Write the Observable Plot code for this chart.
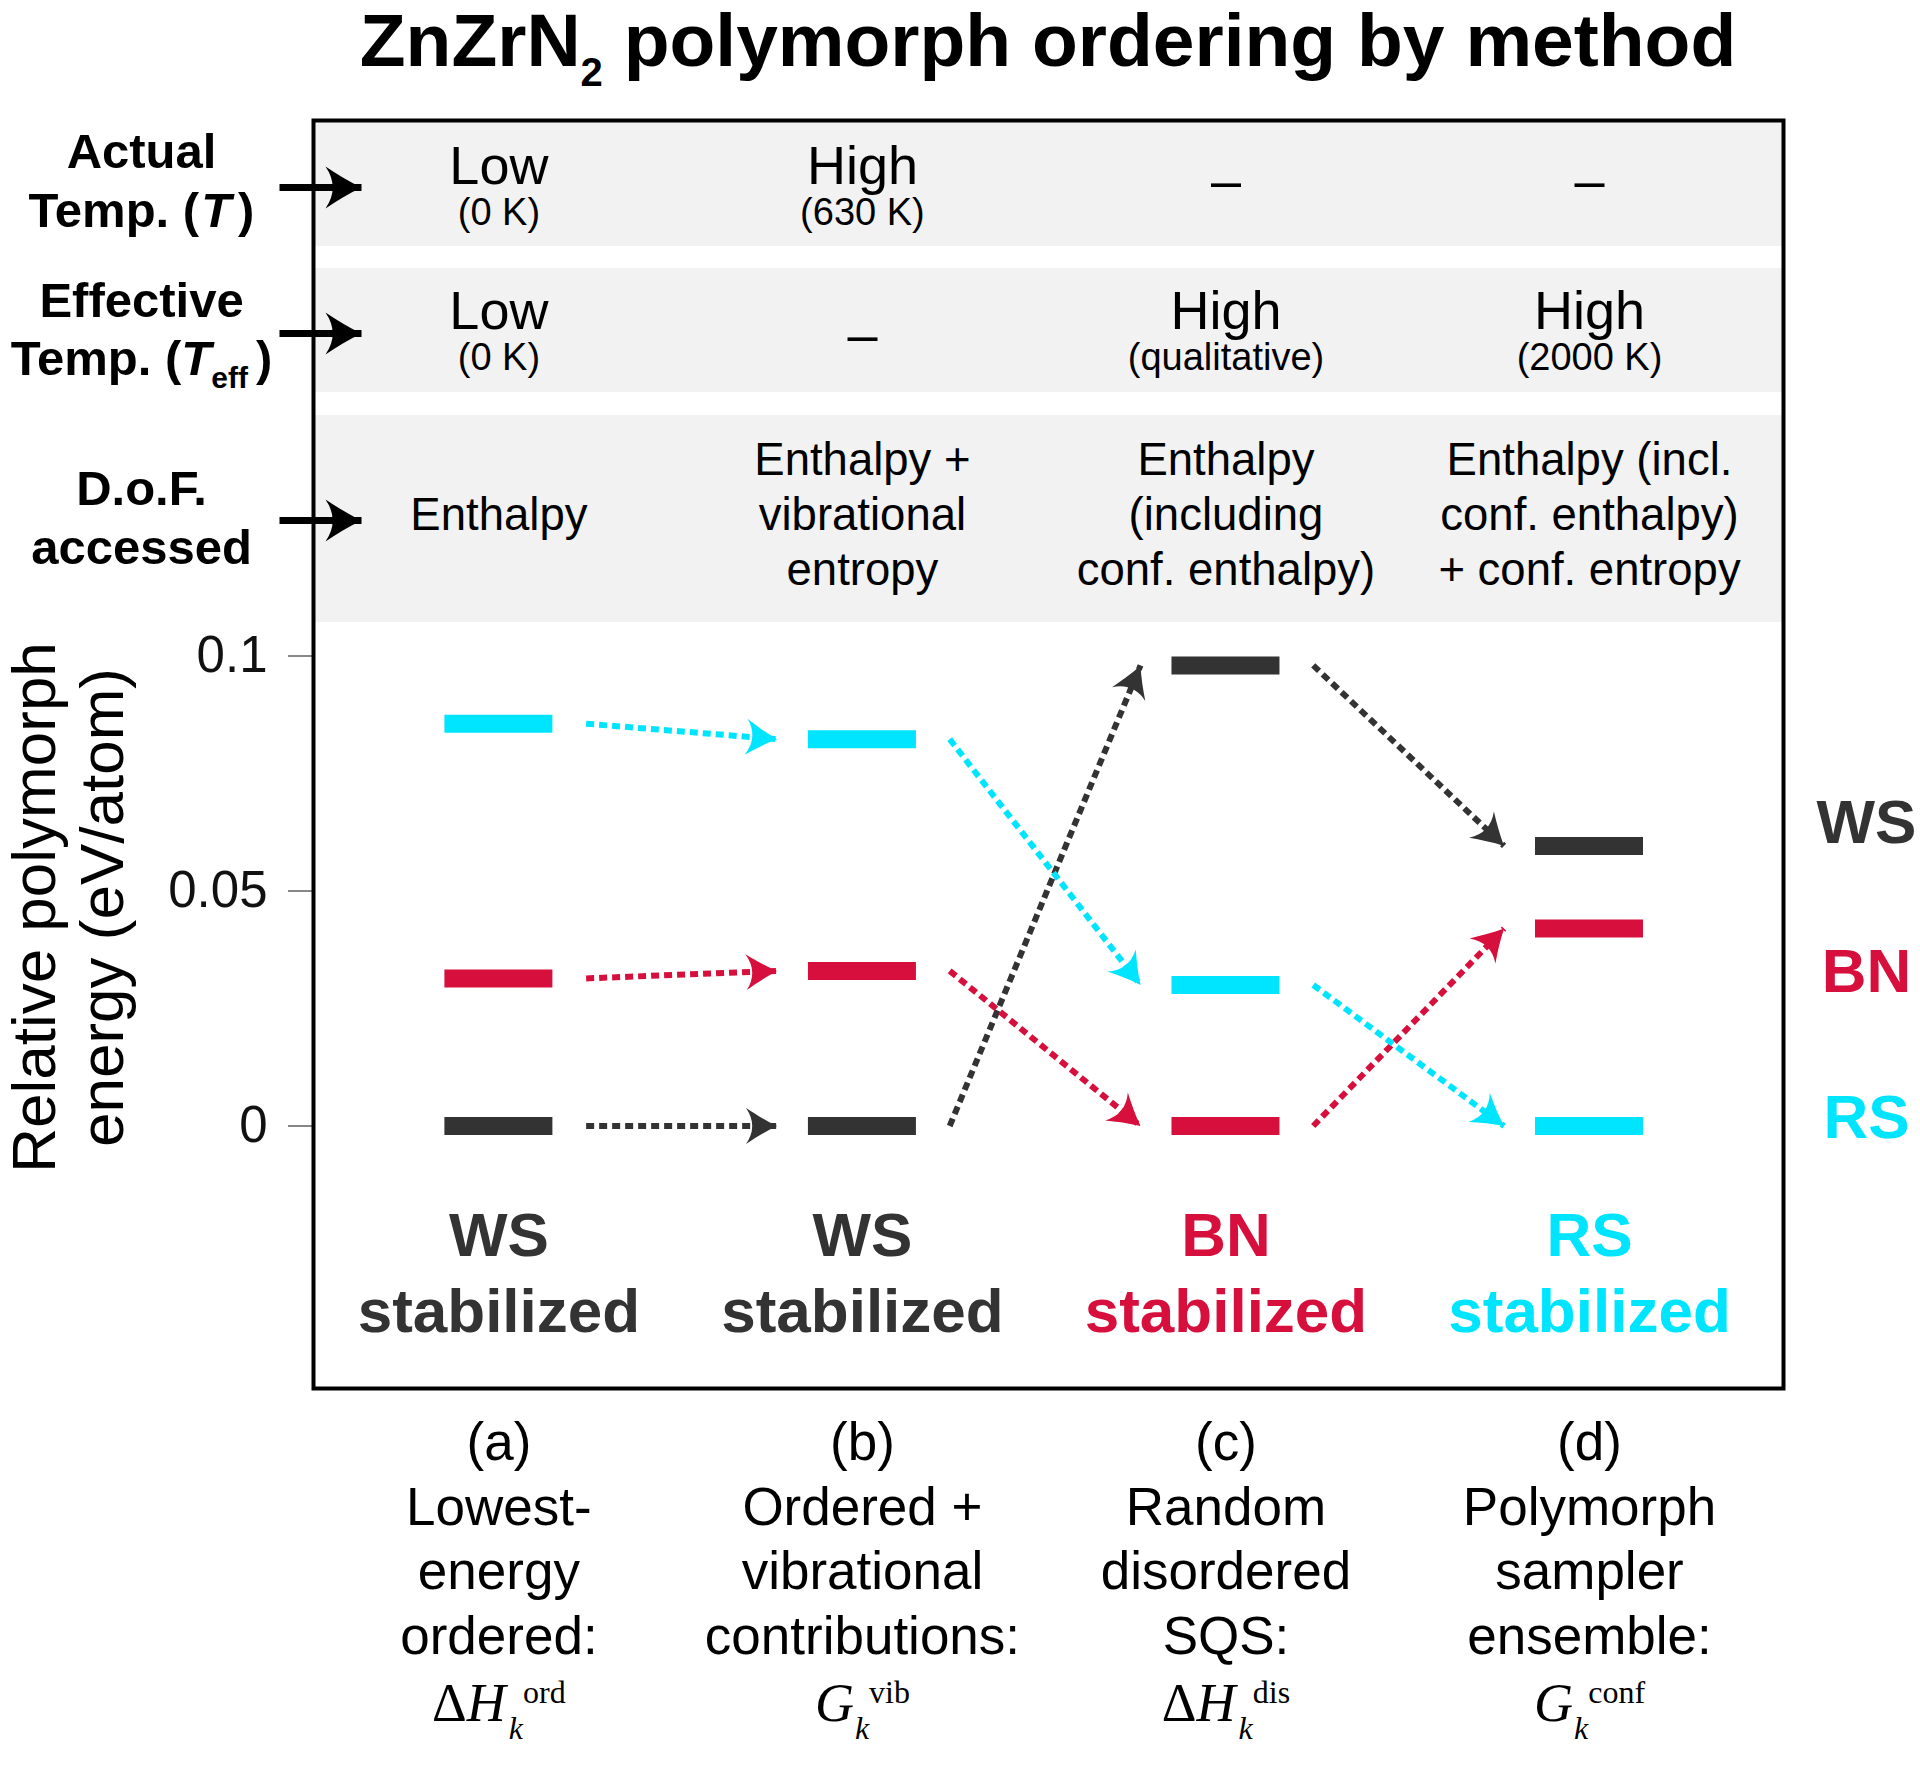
<!DOCTYPE html>
<html><head><meta charset="utf-8">
<script src="https://cdn.jsdelivr.net/npm/d3@7"></script>
<script src="https://cdn.jsdelivr.net/npm/@observablehq/plot@0.6"></script>
<style>
html,body{margin:0;padding:0;background:#fff;}
#title{height:110px;width:1470px;margin-left:313px;padding-top:3px;box-sizing:border-box;text-align:center;
  font-family:"Liberation Sans",Arial,Helvetica,sans-serif;font-weight:bold;font-size:75px;line-height:74px;white-space:nowrap;color:#000;}
#title sub{font-size:40px;vertical-align:baseline;position:relative;top:20px;}
#chart svg{display:block;}
</style></head><body>
<div id="title">ZnZrN<sub>2</sub> polymorph ordering by method</div>
<div id="chart"></div>
<script>
// ---------------- DATA ----------------
const methods = ["a", "b", "c", "d"];
const polymorphs = ["WS", "BN", "RS"];
const polymorphColors = ["#333333", "#D70F3C", "#00E5FF"];
const energyWS = [0, 0, 0.098, 0.0596];
const energyBN = [0.0314, 0.033, 0, 0.042];
const energyRS = [0.0856, 0.0823, 0.030, 0];
const yTicks = [0, 0.05, 0.1];
const yAxisTitle = ["Relative polymorph", "energy (eV/atom)"];
const actualTemp = [["Low", "(0 K)"], ["High", "(630 K)"], ["\u2013", null], ["\u2013", null]];
const effectiveTemp = [["Low", "(0 K)"], ["\u2013", null], ["High", "(qualitative)"], ["High", "(2000 K)"]];
const dofAccessed = ["Enthalpy", "Enthalpy +\nvibrational\nentropy", "Enthalpy\n(including\nconf. enthalpy)", "Enthalpy (incl.\nconf. enthalpy)\n+ conf. entropy"];
const rowLabels = [["Actual", "Temp. (T)"], ["Effective", "Temp. (Teff)"], ["D.o.F.", "accessed"]];
const stabilized = ["WS", "WS", "BN", "RS"];
const panelLetters = ["(a)", "(b)", "(c)", "(d)"];
const methodNames = ["Lowest-\nenergy\nordered:", "Ordered +\nvibrational\ncontributions:", "Random\ndisordered\nSQS:", "Polymorph\nsampler\nensemble:"];
const methodSymbols = ["\u0394Hkord", "Gkvib", "\u0394Hkdis", "Gkconf"];

// ---------------- LAYOUT (page pixels) ----------------
const T = 110;                       // title block height
const W = 1920, H = 1767 - T;
const FRAME = {left: 313, right: 1783, top: 120, bottom: 1388};
const COL0 = 498.4, COL3 = 1589;     // centres of first / last column
const E0 = 1125.5, E01 = 655.5;      // page y of energy 0 and 0.1
const px2col = d3.scaleLinear([COL0, COL3], [0, 3]);
const px2e = d3.scaleLinear([E0, E01], [0, 0.1]);
const BANDS = [[120, 246], [268, 392], [415, 622]];
const HEADER = [{main: 183, sub: 224.5, dash: 181}, {main: 328, sub: 369, dash: 335}];
const DOF_Y = 511.5;
const LEFT_X = 141, LEFT_BASE = [[167.8, 226.3], [316, 374.5], [504.5, 563]];
const LEFT_ARROW = {x1: 279, x2: 361, y: [187, 333, 520]};
const YTITLE = {x: [54, 122], y: 907};
const LEGEND = {x: 1866, y: [822.5, 972, 1118]};
const STAB_Y = 1331, CAPTION_Y = 1653, SYMBOL_Y = 1720;
const BAR_HALF = 54 / (COL3 - COL0) * 3;
const SANS = "'Liberation Sans', Arial, Helvetica, sans-serif";
const SERIF = "'Liberation Serif', 'Times New Roman', serif";

// ---------------- DERIVED TABLES ----------------
const series = {WS: energyWS, BN: energyBN, RS: energyRS};
const bars = polymorphs.flatMap(p => methods.map((m, i) => ({p, i, e: series[p][i]})));
const transitions = polymorphs.flatMap(p => [0, 1, 2].map(i => ({p, i1: i, i2: i + 1, e1: series[p][i], e2: series[p][i + 1]})));
const headerRows = [actualTemp, effectiveTemp];
const cells = headerRows.flatMap((row, r) => row.map((c, i) => ({r, i, main: c[0], sub: c[1]})));
const headMain = cells.filter(d => d.sub).map(d => ({i: d.i, t: d.main, y: px2e(HEADER[d.r].main)}));
const headSub = cells.filter(d => d.sub).map(d => ({i: d.i, t: d.sub, y: px2e(HEADER[d.r].sub)}));
const headDash = cells.filter(d => !d.sub).map(d => ({i: d.i, t: d.main, y: px2e(HEADER[d.r].dash)}));
const leftLines = rowLabels.flatMap((lines, r) => lines.map((t, k) => ({t, y: px2e(LEFT_BASE[r][k])})));
const RICH = {
  "Temp. (T)": [["Temp. ("], ["T", {fs: "italic", dx: 2}], [")", {dx: 7}]],
  "Temp. (Teff)": [["Temp. ("], ["T", {fs: "italic"}], ["eff", {size: 30, dy: 13}], [")", {dy: -13, dx: 8}]],
  "\u0394Hkord": [["\u0394"], ["H", {fs: "italic"}], ["k", {fs: "italic", size: 32, dy: 18, dx: 3}], ["ord", {size: 32, dy: -36}]],
  "Gkvib": [["G", {fs: "italic"}], ["k", {fs: "italic", size: 32, dy: 18, dx: 1}], ["vib", {size: 32, dy: -36}]],
  "\u0394Hkdis": [["\u0394"], ["H", {fs: "italic"}], ["k", {fs: "italic", size: 32, dy: 18, dx: 3}], ["dis", {size: 32, dy: -36}]],
  "Gkconf": [["G", {fs: "italic"}], ["k", {fs: "italic", size: 32, dy: 18, dx: 1}], ["conf", {size: 32, dy: -36}]]
};

const SVGNS = "http://www.w3.org/2000/svg";
function arrowHead(L, h) {
  return (color, context) => {
    const doc = (context && context.document) || document;
    const m = doc.createElementNS(SVGNS, "marker");
    m.setAttribute("viewBox", `${-L - 1} ${-h - 1} ${L + 2} ${2 * h + 2}`);
    m.setAttribute("markerWidth", L + 2);
    m.setAttribute("markerHeight", 2 * h + 2);
    m.setAttribute("refX", 0);
    m.setAttribute("refY", 0);
    m.setAttribute("markerUnits", "userSpaceOnUse");
    m.setAttribute("orient", "auto");
    const p = doc.createElementNS(SVGNS, "path");
    p.setAttribute("d", `M0,0 C${-0.35 * L},${-0.28 * h} ${-0.7 * L},${-0.66 * h} ${-L},${-h} Q${-0.6 * L},0 ${-L},${h} C${-0.7 * L},${0.66 * h} ${-0.35 * L},${0.28 * h} 0,0Z`);
    p.setAttribute("fill", color);
    p.setAttribute("stroke", "none");
    m.appendChild(p);
    return m;
  };
}

function build(smallHead, bigHead) {
  return Plot.plot({
    width: W, height: H,
    marginLeft: FRAME.left, marginRight: W - FRAME.right,
    marginTop: FRAME.top - T, marginBottom: H - (FRAME.bottom - T),
    x: {domain: [0, 3], range: [COL0, COL3], axis: null},
    y: {domain: [0, 0.1], range: [E0 - T, E01 - T], ticks: yTicks, tickFormat: d => `${d}`, tickSize: 25, tickPadding: 21, label: null},
    color: {domain: polymorphs, range: polymorphColors},
    style: {fontFamily: SANS, fontSize: "51px", color: "#111", background: "white", overflow: "visible"},
    marks: [
      Plot.rect(BANDS, {x1: () => px2col(FRAME.left), x2: () => px2col(FRAME.right), y1: d => px2e(d[0]), y2: d => px2e(d[1]), fill: "#f2f2f2"}),
      Plot.frame({stroke: "#000", strokeWidth: 4}),
      // header rows
      Plot.text(headMain, {x: "i", y: "y", text: "t", fontSize: 54, lineAnchor: "bottom", fill: "#000"}),
      Plot.text(headSub, {x: "i", y: "y", text: "t", fontSize: 38, lineAnchor: "bottom", fill: "#000"}),
      Plot.text(headDash, {x: "i", y: "y", text: "t", fontSize: 54, lineAnchor: "middle", fill: "#000"}),
      Plot.text(dofAccessed, {x: (d, i) => i, y: () => px2e(DOF_Y), text: d => d, fontSize: 45.5, lineHeight: 1.21, lineAnchor: "middle", fill: "#000"}),
      // left row labels and arrows
      Plot.text(leftLines, {x: () => px2col(LEFT_X), y: "y", text: "t", fontSize: 49, fontWeight: "bold", lineAnchor: "bottom", fill: "#000"}),
      Plot.link(LEFT_ARROW.y, {x1: () => px2col(LEFT_ARROW.x1), x2: () => px2col(LEFT_ARROW.x2), y1: d => px2e(d), y2: d => px2e(d), stroke: "#000", strokeWidth: 7, markerEnd: bigHead}),
      // y axis title
      Plot.text(yAxisTitle, {x: (d, i) => px2col(YTITLE.x[i]), y: () => px2e(YTITLE.y), text: d => d, rotate: -90, fontSize: 62, lineAnchor: "bottom", fill: "#000"}),
      // arrows between methods
      Plot.link(transitions, {x1: d => d.i1 + 0.24, y1: "e1", x2: d => d.i2 - 0.235, y2: "e2", stroke: "p", strokeWidth: 6, strokeDasharray: "8,5", markerEnd: smallHead}),
      // energy levels
      Plot.ruleY(bars, {x1: d => d.i - BAR_HALF, x2: d => d.i + BAR_HALF, y: "e", stroke: "p", strokeWidth: 18}),
      // legend
      Plot.text(polymorphs, {x: () => px2col(LEGEND.x), y: (d, i) => px2e(LEGEND.y[i]), text: d => d, fill: d => d, fontSize: 62, fontWeight: "bold", lineAnchor: "middle"}),
      // stabilized labels
      Plot.text(stabilized, {x: (d, i) => i, y: () => px2e(STAB_Y), text: d => `${d}\nstabilized`, fill: d => d, fontSize: 62, fontWeight: "bold", lineHeight: 1.21, lineAnchor: "bottom"}),
      // captions
      Plot.text(methods, {x: (d, i) => i, y: () => px2e(CAPTION_Y), text: (d, i) => `${panelLetters[i]}\n${methodNames[i]}`, fontSize: 53, lineHeight: 1.217, lineAnchor: "bottom", fill: "#000"}),
      Plot.text(methodSymbols, {x: (d, i) => i, y: () => px2e(SYMBOL_Y), text: d => d, fontSize: 54, fontFamily: SERIF, lineAnchor: "bottom", fill: "#000"})
    ]
  });
}

let plot;
try {
  plot = build(arrowHead(31, 18), arrowHead(36, 21));
} catch (e) {
  plot = build("arrow", "arrow");
}

// rich text (italics, sub/superscripts)
plot.querySelectorAll("text").forEach(t => {
  const spec = RICH[t.textContent];
  if (!spec) return;
  while (t.firstChild) t.removeChild(t.firstChild);
  for (const [s, o = {}] of spec) {
    const ts = document.createElementNS(SVGNS, "tspan");
    ts.textContent = s;
    if (o.fs) ts.setAttribute("font-style", o.fs);
    if (o.size) ts.setAttribute("font-size", o.size);
    if (o.dy) ts.setAttribute("dy", o.dy);
    if (o.dx) ts.setAttribute("dx", o.dx);
    t.appendChild(ts);
  }
});
document.getElementById("chart").appendChild(plot);
</script>
</body></html>
